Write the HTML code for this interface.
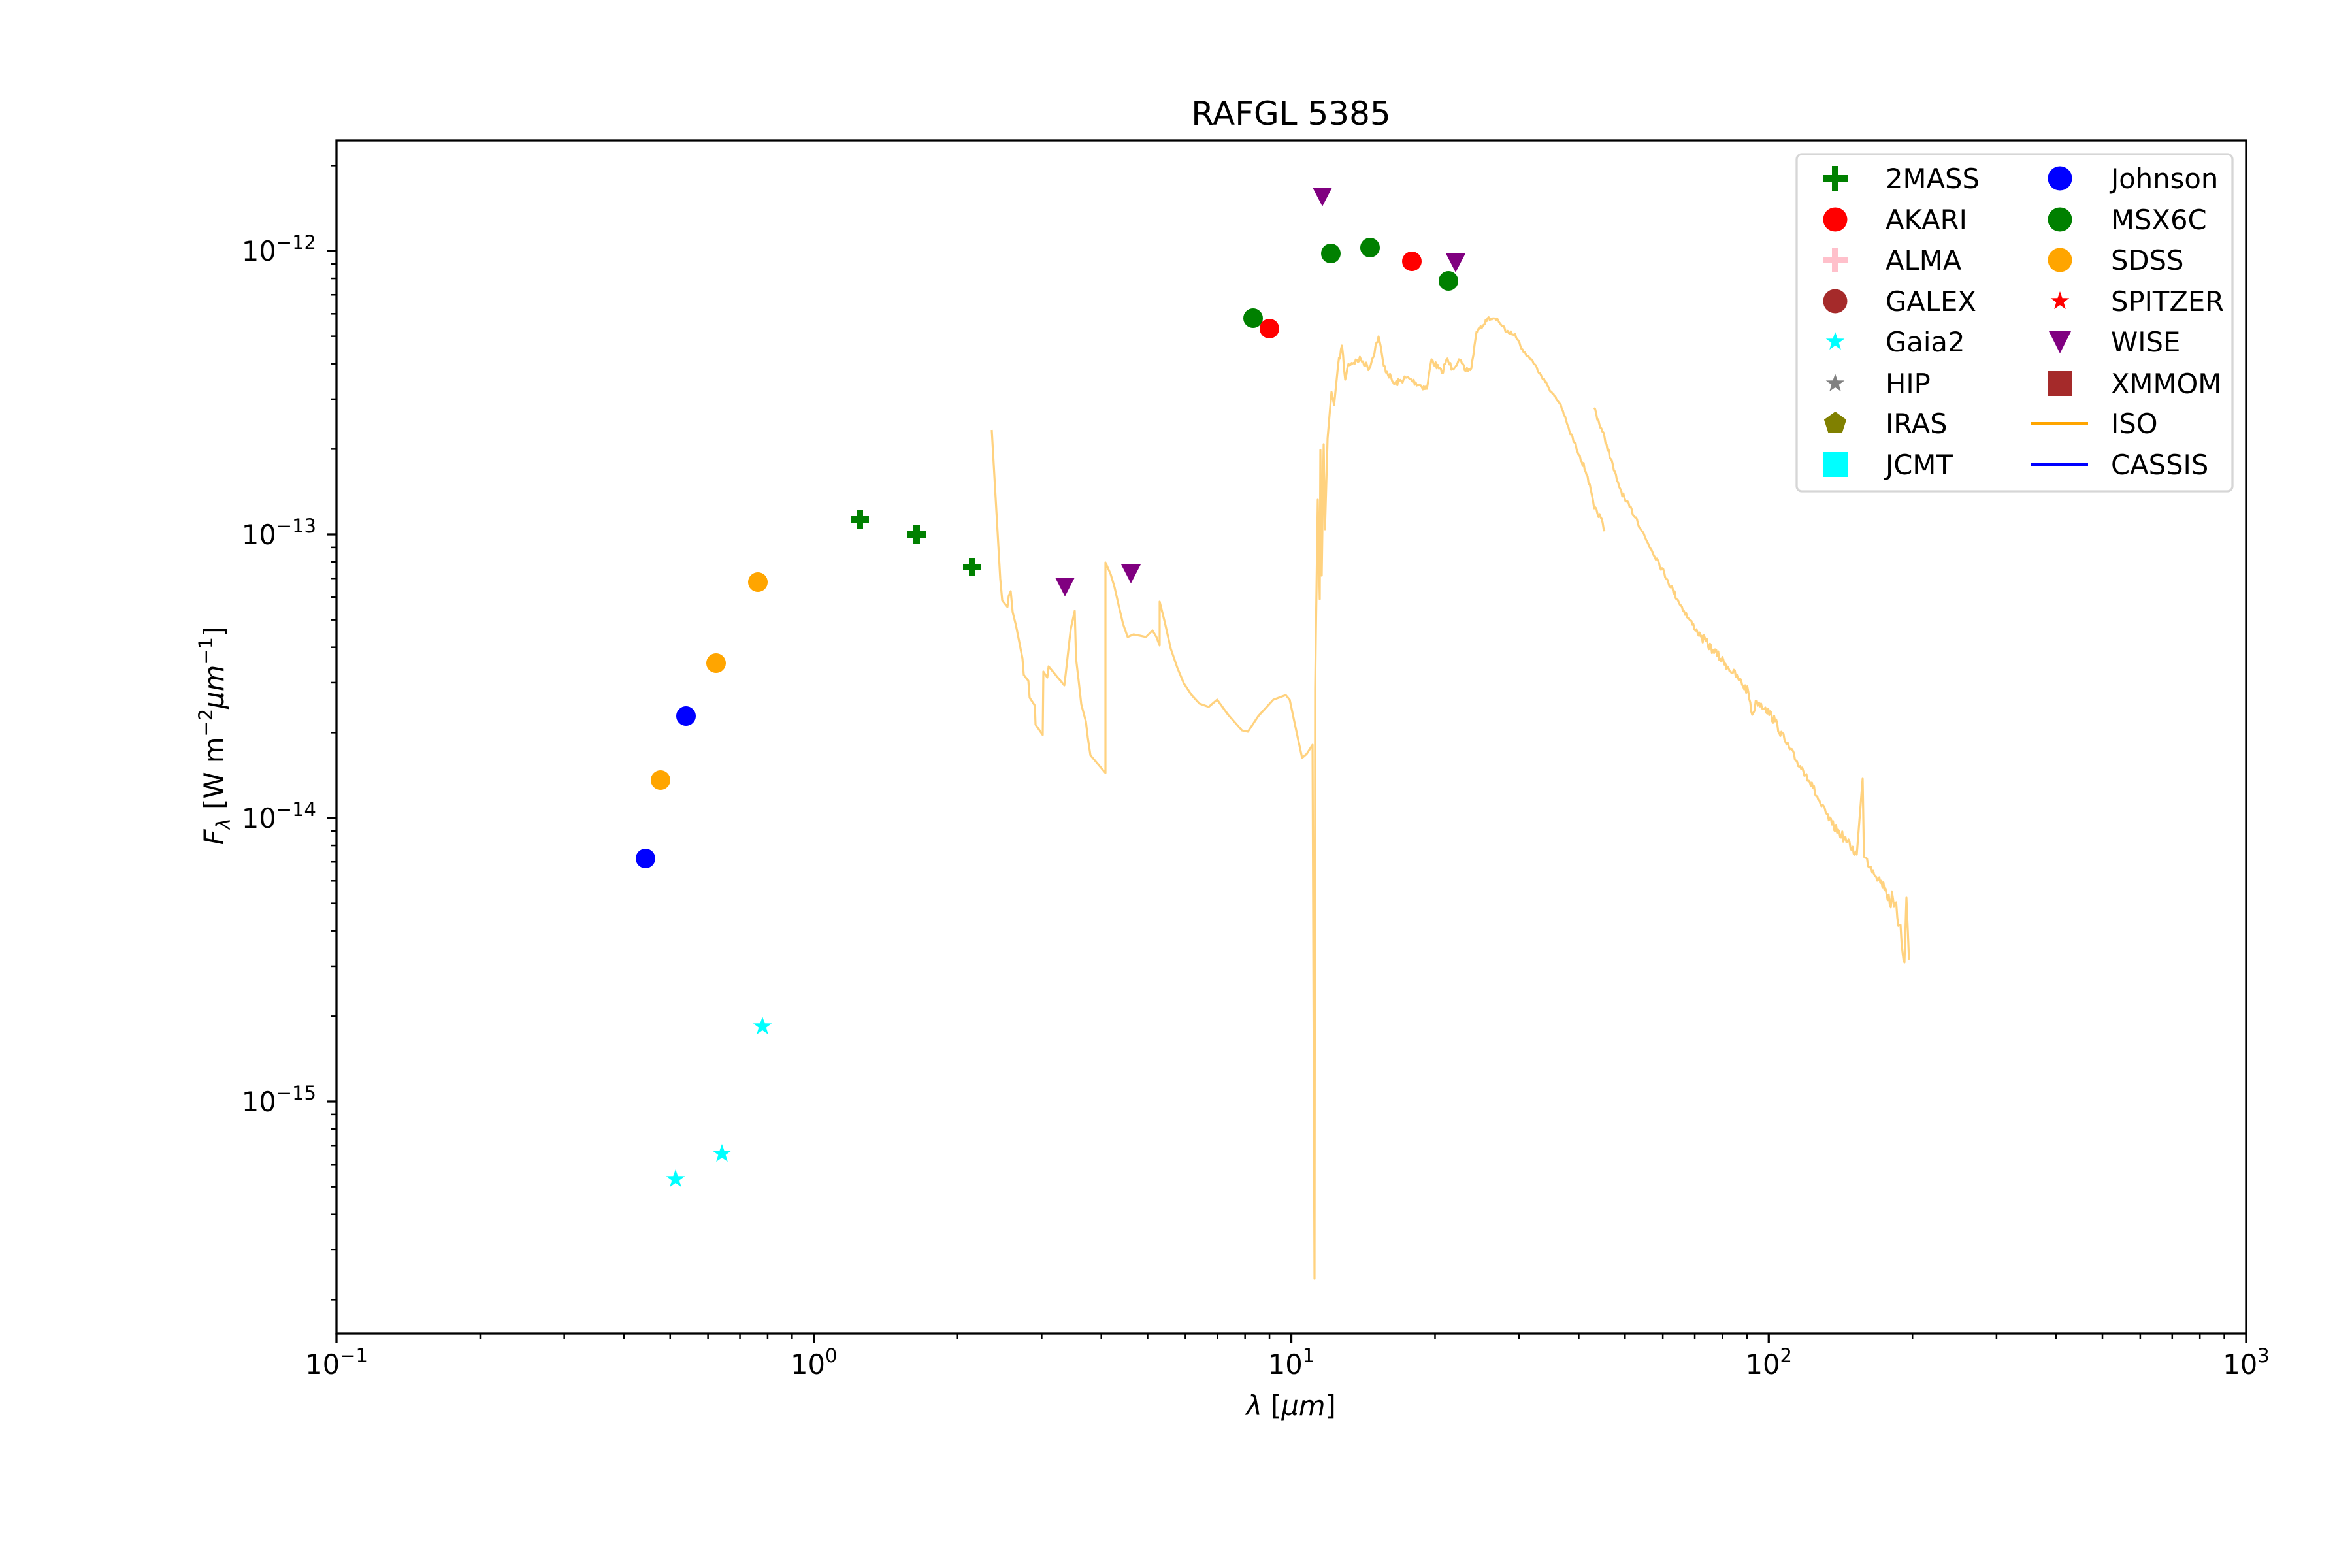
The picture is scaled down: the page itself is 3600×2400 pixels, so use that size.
<!DOCTYPE html>
<html><head><meta charset="utf-8"><style>
html,body{margin:0;padding:0;background:#fff;}
svg{display:block;}
text{font-family:"DejaVu Sans","Liberation Sans",sans-serif;fill:#000;}
</style></head><body>
<svg id="s" width="3600" height="2400" viewBox="0 0 3600 2400" xmlns="http://www.w3.org/2000/svg">
<rect width="3600" height="2400" fill="#fff"/>
<g id="ticks" stroke="#000"></g>
<g id="iso" fill="none" stroke="#FFD27F" stroke-width="3.2" stroke-linejoin="round"></g>
<defs>
<path id="plus" d="M-5,-14 h10 v9 h9 v10 h-9 v9 h-10 v-9 h-9 v-10 h9 z"/>
<path id="plusL" d="M-5,-19 h10 v14 h14 v10 h-14 v14 h-10 v-14 h-14 v-10 h14 z"/>
<path id="tri" d="M-15,-12 L15,-12 L0,17 Z"/>
<path id="triL" d="M-17.5,-17 L17.5,-17 L0,18 Z"/>
<path id="star" d="M0,-15 L3.6,-4.8 14.3,-4.6 5.7,1.8 8.8,12.1 0,6 -8.8,12.1 -5.7,1.8 -14.3,-4.6 -3.6,-4.8 Z"/>
<path id="pent" d="M0,-18 L17.1,-5.6 10.6,14.6 -10.6,14.6 -17.1,-5.6 Z"/>
</defs>
<g fill="#008000"><use href="#plus" x="1316" y="795"/><use href="#plus" x="1403" y="818"/><use href="#plus" x="1488" y="868"/></g>
<g fill="#0000ff"><circle cx="988" cy="1314" r="15"/><circle cx="1050" cy="1096" r="15"/></g>
<g fill="#FFA500"><circle cx="1011" cy="1194" r="15"/><circle cx="1096" cy="1015" r="15"/><circle cx="1160" cy="891" r="15"/></g>
<g fill="#00ffff"><use href="#star" x="1034" y="1805"/><use href="#star" x="1105" y="1766"/><use href="#star" x="1167" y="1571"/></g>
<g fill="#800080"><use href="#tri" x="1630" y="896"/><use href="#tri" x="1731" y="876"/><use href="#tri" x="2024" y="299"/><use href="#tri" x="2228" y="400"/></g>
<g fill="#008000"><circle cx="1918" cy="487" r="15"/><circle cx="2037" cy="388" r="15"/><circle cx="2097" cy="379" r="15"/><circle cx="2217" cy="430" r="15"/></g>
<g fill="#ff0000"><circle cx="1943" cy="503" r="15"/><circle cx="2161" cy="400" r="15"/></g>
<rect x="515" y="215" width="2923" height="1826" fill="none" stroke="#000" stroke-width="3.3"/>
<rect x="2750" y="236" width="667" height="516" rx="8" fill="#fff" fill-opacity="0.8" stroke="#d6d6d6" stroke-width="3.3"/>
<g font-size="41.7">
<use href="#plusL" x="2809" y="273" fill="#008000"/><text x="2886" y="288">2MASS</text>
<circle cx="2809" cy="336" r="18.5" fill="#ff0000"/><text x="2886" y="351">AKARI</text>
<use href="#plusL" x="2809" y="398" fill="#FFC0CB"/><text x="2886" y="413">ALMA</text>
<circle cx="2809" cy="461" r="18.5" fill="#A52A2A"/><text x="2886" y="476">GALEX</text>
<use href="#star" x="2809" y="523" fill="#00ffff"/><text x="2886" y="538">Gaia2</text>
<use href="#star" x="2809" y="587" fill="#808080"/><text x="2886" y="602">HIP</text>
<use href="#pent" x="2809" y="648" fill="#808000"/><text x="2886" y="663">IRAS</text>
<rect x="2790" y="692" width="38" height="38" fill="#00ffff"/><text x="2886" y="726">JCMT</text>
<circle cx="3153" cy="273" r="18.5" fill="#0000ff"/><text x="3231" y="288">Johnson</text>
<circle cx="3153" cy="336" r="18.5" fill="#008000"/><text x="3231" y="351">MSX6C</text>
<circle cx="3153" cy="398" r="18.5" fill="#FFA500"/><text x="3231" y="413">SDSS</text>
<use href="#star" x="3153" y="461" fill="#ff0000"/><text x="3231" y="476">SPITZER</text>
<use href="#triL" x="3153" y="523" fill="#800080"/><text x="3231" y="538">WISE</text>
<rect x="3134" y="568" width="38" height="38" fill="#A52A2A"/><text x="3231" y="602">XMMOM</text>
<line x1="3109" y1="648" x2="3196" y2="648" stroke="#FFA500" stroke-width="4"/><text x="3231" y="663">ISO</text>
<line x1="3109" y1="711" x2="3196" y2="711" stroke="#0000ff" stroke-width="4"/><text x="3231" y="726">CASSIS</text>
</g>
<text x="1976" y="191" font-size="50" text-anchor="middle">RAFGL 5385</text>
<text x="1976" y="2166" font-size="41.7" text-anchor="middle"><tspan font-style="italic">λ</tspan> [<tspan font-style="italic">μm</tspan>]</text>
<text transform="translate(342,1126) rotate(-90)" font-size="41.7" text-anchor="middle"><tspan font-style="italic">F</tspan><tspan font-style="italic" font-size="29" dy="10">λ</tspan><tspan dy="-10"> [W m</tspan><tspan font-size="29" dy="-17">−2</tspan><tspan font-style="italic" dy="17">μm</tspan><tspan font-size="29" dy="-17">−1</tspan><tspan dy="17">]</tspan></text>
<g id="labels" font-size="41.7"></g>
</svg>
<script>
var NS="http://www.w3.org/2000/svg";
var tg=document.getElementById("ticks"), lg=document.getElementById("labels");
function ln(x1,y1,x2,y2,w){var l=document.createElementNS(NS,"line");l.setAttribute("x1",x1);l.setAttribute("y1",y1);l.setAttribute("x2",x2);l.setAttribute("y2",y2);l.setAttribute("stroke-width",w);tg.appendChild(l);}
function X(L){return 515+(L+1)*730.75;}
function Y(L){return 384-(L+12)*434;}
for(var d=-1;d<=3;d++){var x=X(d);ln(x,2041,x,2056,3.3);
 var t=document.createElementNS(NS,"text");t.setAttribute("x",x);t.setAttribute("y",2103);t.setAttribute("text-anchor","middle");
 t.innerHTML='10<tspan font-size="29" dy="-18">'+(d<0?'−':'')+Math.abs(d)+'</tspan>';lg.appendChild(t);
 if(d<3)for(var k=2;k<=9;k++){var xm=X(d+Math.log10(k));ln(xm,2041,xm,2049,2.5);}}
for(var d=-16;d<=-11;d++){var y=Y(d);
 if(y>=214&&y<=2042){ln(500,y,515,y,3.3);
  var t=document.createElementNS(NS,"text");t.setAttribute("x",484);t.setAttribute("y",y+15);t.setAttribute("text-anchor","end");
  t.innerHTML='10<tspan font-size="29" dy="-18">−'+Math.abs(d)+'</tspan>';lg.appendChild(t);}
 for(var k=2;k<=9;k++){var ym=Y(d+Math.log10(k));if(ym>=214&&ym<=2042)ln(507,ym,515,ym,2.5);}}
// ISO
var segs=[
"1518,658 1531,886 1534,919 1542,929 1544,912 1547,905 1550,937 1555,957 1560,982 1565,1008 1567,1033 1574,1042 1576,1068 1584,1080 1585,1109 1596,1125 1597,1028 1603,1037 1605,1020 1629,1049 1631,1033 1635,997 1639,962 1645,935 1647,1008 1651,1042 1655,1078 1662,1104 1665,1129 1669,1156 1692,1183 1692,861 1700,879 1706,899 1713,930 1719,955 1726,975 1735,971 1745,973 1754,975 1764,965 1770,975 1775,988 1775,921 1783,953 1792,993 1802,1022 1812,1046 1824,1064 1836,1077 1850,1082 1863,1071 1879,1093 1901,1118 1910,1120 1926,1096 1949,1071 1968,1064 1974,1071 1984,1118 1993,1160 2000,1154 2009,1140 2012,1957 2013,1055 2014,975 2017,765 2020,917 2021,689 2023,881 2026,680 2028,810 2032,671 2038,600 2042,620 2048,560 2054,529 2059,581 2064,557 2083,550 2096,564 2110,515 2118,560 2134,588 2153,578 2184,595 2191,550 2207,571 2214,550 2223,564 2233,550 2242,567 2252,564 2260,508 2271,497 2277,487 2293,490 2306,508 2319,511 2332,539 2344,550 2357,571 2376,602 2389,620 2402,659 2418,697 2430,729 2440,778 2450,792 2456,813",
"2440,624 2459,680 2475,736 2488,767 2504,792 2520,827 2536,855 2552,887 2568,918 2584,946 2603,974 2622,995 2641,1016 2660,1038 2676,1059 2682,1094 2689,1073 2702,1083 2717,1104 2733,1136 2749,1164 2765,1185 2775,1206 2788,1234 2804,1262 2823,1283 2842,1308 2851,1192 2853,1311 2867,1332 2886,1360 2899,1388 2909,1416 2915,1473 2918,1374 2922,1469"];
var seed=7;function rnd(){seed=(seed*16807)%2147483647;return seed/2147483647-0.5;}
function amp(x){if(x<2045)return 0;if(x<2250)return 10;if(x<2400)return 5;if(x<2600)return 9;if(x<2880)return 14;return 34;}
var ig=document.getElementById("iso");
segs.forEach(function(s){
 var p=s.split(" ").map(function(q){return q.split(",").map(Number);});
 var out=[p[0].join(",")];
 for(var i=1;i<p.length;i++){
  var a=p[i-1],b=p[i],dx=b[0]-a[0];
  var A=amp(a[0]);
  if(A>0&&dx>2&&Math.abs(b[1]-a[1])<60){
   var n=Math.floor(dx/1.5);
   for(var j=1;j<n;j++){var f=j/n;var x=a[0]+dx*f,y=a[1]+(b[1]-a[1])*f+rnd()*A;out.push(x.toFixed(1)+","+y.toFixed(1));}
  }
  out.push(b.join(","));
 }
 var pl=document.createElementNS(NS,"polyline");pl.setAttribute("points",out.join(" "));ig.appendChild(pl);
});
</script>
</body></html>
